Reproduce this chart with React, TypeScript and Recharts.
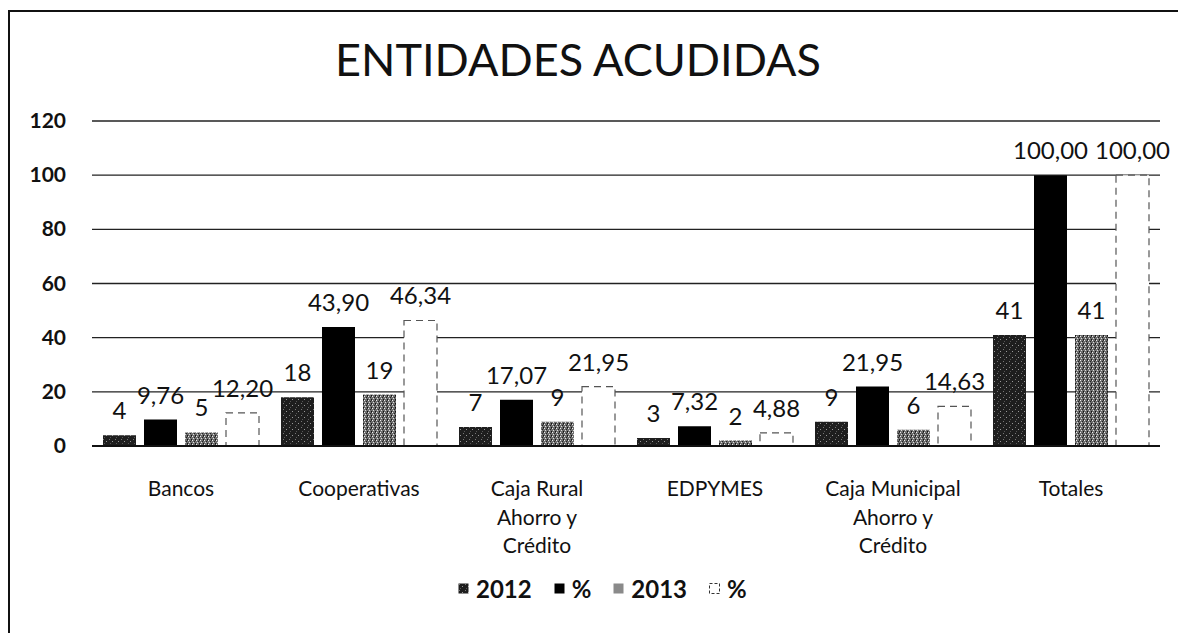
import {
  BarChart,
  Bar,
  XAxis,
  YAxis,
  CartesianGrid,
  LabelList,
} from "recharts";

const categories = [
  "Bancos",
  "Cooperativas",
  "Caja Rural\nAhorro y\nCrédito",
  "EDPYMES",
  "Caja Municipal\nAhorro y\nCrédito",
  "Totales",
];
const count2012 = [4, 18, 7, 3, 9, 41];
const pct2012 = [9.76, 43.9, 17.07, 7.32, 21.95, 100];
const count2013 = [5, 19, 9, 2, 6, 41];
const pct2013 = [12.2, 46.34, 21.95, 4.88, 14.63, 100];
const yTicks = [0, 20, 40, 60, 80, 100, 120];

const FONT = "Lato, 'Open Sans', sans-serif";

const data = categories.map((name, i) => ({
  name,
  c2012: count2012[i],
  p2012: pct2012[i],
  c2013: count2013[i],
  p2013: pct2013[i],
}));

const fmtInt = (v: any) => String(v);
const fmtPct = (v: any) => Number(v).toFixed(2).replace(".", ",");

// etiquetas del eje x en varias líneas
const CategoryTick = (props: any) => {
  const { x, y, payload } = props;
  const lines = String(payload.value).split("\n");
  return (
    <text x={x} y={y + 42} textAnchor="middle" fill="#111" fontSize={21} fontFamily={FONT}>
      {lines.map((line: string, i: number) => (
        <tspan key={i} x={x} dy={i === 0 ? 0 : 28.5}>
          {line}
        </tspan>
      ))}
    </text>
  );
};

const ValueTick = (props: any) => {
  const { y, payload } = props;
  return (
    <text x={66} y={y + 7} textAnchor="end" fill="#111" fontSize={21} fontWeight={700} fontFamily={FONT}>
      {payload.value}
    </text>
  );
};

const labelStyle = { fill: "#111", fontSize: 24, fontFamily: FONT };

const LegendItem = ({ fill, border, label }: { fill: string; border?: boolean; label: string }) => (
  <div style={{ display: "flex", alignItems: "center", marginRight: 22 }}>
    <svg width={11} height={11} style={{ marginRight: 7 }}>
      <rect
        x={0.5}
        y={0.5}
        width={10}
        height={10}
        fill={fill}
        stroke={border ? "#333" : "none"}
        strokeDasharray={border ? "3 2" : undefined}
      />
    </svg>
    <span>{label}</span>
  </div>
);

const Patterns = () => (
  <>
    <pattern id="pat2012" width="6" height="6" patternUnits="userSpaceOnUse">
      <rect width="6" height="6" fill="#1e1e1e" />
      <rect x="1" y="1" width="1" height="1" fill="#777" />
      <rect x="4" y="3" width="1" height="1" fill="#999" />
      <rect x="2" y="5" width="1" height="1" fill="#555" />
    </pattern>
    <pattern id="pat2013" width="4" height="4" patternUnits="userSpaceOnUse">
      <rect width="4" height="4" fill="#6e6e6e" />
      <rect x="0" y="0" width="1" height="1" fill="#eee" />
      <rect x="2" y="1" width="1" height="1" fill="#222" />
      <rect x="1" y="2" width="1" height="1" fill="#ddd" />
      <rect x="3" y="3" width="1" height="1" fill="#111" />
      <rect x="3" y="0" width="1" height="1" fill="#333" />
    </pattern>
  </>
);

export default function App() {
  return (
    <div
      style={{
        position: "fixed",
        left: 0,
        top: 0,
        width: 1180,
        height: 633,
        background: "#fff",
        fontFamily: FONT,
        overflow: "hidden",
        zIndex: 10,
      }}
    >
      {/* marco: solo se ven el borde superior y el izquierdo */}
      <div style={{ position: "absolute", left: 8, top: 10, width: 1170, height: 2, background: "#111" }} />
      <div style={{ position: "absolute", left: 8, top: 10, width: 2, height: 623, background: "#111" }} />

      <div
        style={{
          position: "absolute",
          left: 278,
          width: 600,
          top: 32,
          textAlign: "center",
          fontSize: 45,
          color: "#111",
          whiteSpace: "nowrap",
        }}
      >
        ENTIDADES ACUDIDAS
      </div>

      <div style={{ position: "absolute", left: 0, top: 0 }}>
        <BarChart
          width={1180}
          height={633}
          data={data}
          margin={{ top: 121, right: 20, left: 32, bottom: 87 }}
          barSize={33}
          barGap={8}
        >
          <defs>
            <Patterns />
          </defs>
          <CartesianGrid vertical={false} stroke="#222" strokeWidth={1.3} />
          <XAxis
            dataKey="name"
            height={100}
            axisLine={{ stroke: "#111", strokeWidth: 2 }}
            tickLine={false}
            tick={<CategoryTick />}
            interval={0}
          />
          <YAxis
            width={60}
            domain={[0, 120]}
            ticks={yTicks}
            axisLine={false}
            tickLine={false}
            tick={<ValueTick />}
          />
          <Bar dataKey="c2012" fill="url(#pat2012)" isAnimationActive={false}>
            <LabelList dataKey="c2012" position="top" offset={16} formatter={fmtInt} style={labelStyle} />
          </Bar>
          <Bar dataKey="p2012" fill="#000" isAnimationActive={false}>
            <LabelList dataKey="p2012" position="top" offset={16} formatter={fmtPct} style={labelStyle} />
          </Bar>
          <Bar dataKey="c2013" fill="url(#pat2013)" isAnimationActive={false}>
            <LabelList dataKey="c2013" position="top" offset={16} formatter={fmtInt} style={labelStyle} />
          </Bar>
          <Bar
            dataKey="p2013"
            fill="#fff"
            stroke="#555"
            strokeWidth={1.2}
            strokeDasharray="7 5"
            isAnimationActive={false}
          >
            <LabelList dataKey="p2013" position="top" offset={16} formatter={fmtPct} style={labelStyle} />
          </Bar>
        </BarChart>
      </div>

      <div
        style={{
          position: "absolute",
          left: 458,
          top: 574,
          display: "flex",
          fontSize: 24,
          fontWeight: 700,
          color: "#111",
        }}
      >
        <LegendItem fill="url(#pat2012)" label="2012" />
        <LegendItem fill="#000" label="%" />
        <LegendItem fill="#8a8a8a" label="2013" />
        <LegendItem fill="#fff" border label="%" />
      </div>
    </div>
  );
}
